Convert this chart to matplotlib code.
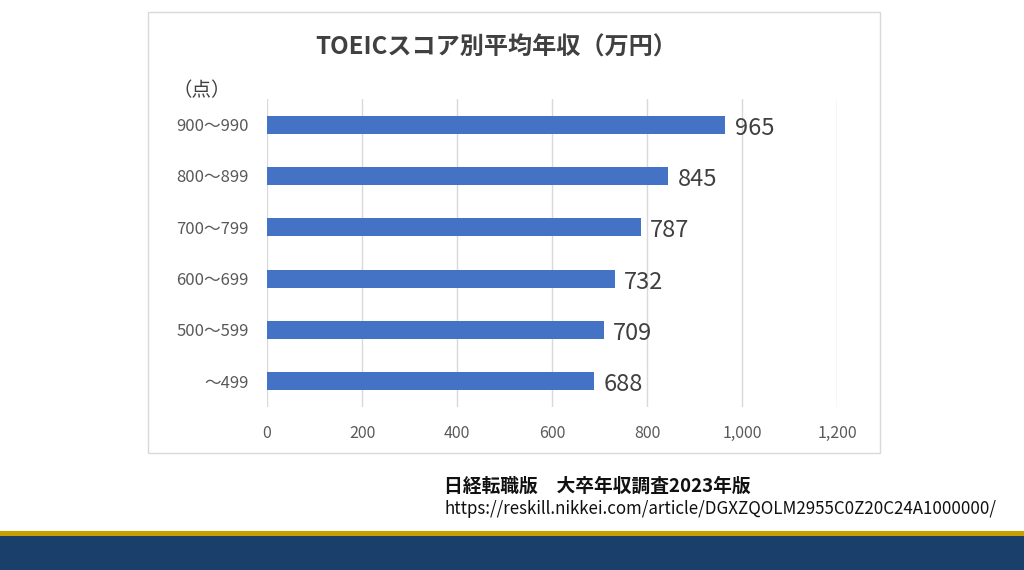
import matplotlib
matplotlib.use("Agg")
import matplotlib.pyplot as plt
from matplotlib.patches import Rectangle
from matplotlib.ticker import FuncFormatter

plt.rcParams['font.family'] = ['Noto Sans CJK JP', 'DejaVu Sans']

categories = ["〜499", "500〜599", "600〜699", "700〜799", "800〜899", "900〜990"]
values = [688, 709, 732, 787, 845, 965]
xticks = [0, 200, 400, 600, 800, 1000, 1200]

fig = plt.figure(figsize=(10.24, 5.70), dpi=100)
fig.patch.set_facecolor("white")

# chart frame
fig.patches.append(Rectangle((148/1024, 1-453/570), 732/1024, 441/570,
                             transform=fig.transFigure, facecolor="white",
                             edgecolor="#d9d9d9", linewidth=1.0, zorder=-5))

# bottom decoration bands
fig.patches.append(Rectangle((0, 0), 1, 34/570, transform=fig.transFigure,
                             facecolor="#1b3f6b", edgecolor="none", zorder=-5))
fig.patches.append(Rectangle((0, 34/570), 1, 5/570, transform=fig.transFigure,
                             facecolor="#c9a000", edgecolor="none", zorder=-5))

ax = fig.add_axes([267/1024, 1-407/570, 570/1024, 308/570])
ax.set_zorder(5)
ax.set_facecolor("none")
y = range(len(categories))
bars = ax.barh(y, values, height=0.35, color="#4472C4", zorder=3)
for yi, v in zip(y, values):
    ax.text(v + 20, yi - 0.07, f"{v}", va="center", ha="left", fontsize=17,
            color="#404040", zorder=4)

ax.set_xlim(0, 1200)
ax.set_ylim(-0.5, len(categories) - 0.5)
ax.set_xticks(xticks)
ax.xaxis.set_major_formatter(FuncFormatter(lambda v, p: f"{int(v):,}"))
ax.set_yticks(list(y))
ax.set_yticklabels(categories)
ax.grid(axis="x", color="#d9d9d9", linewidth=1.0, zorder=0)
ax.set_axisbelow(True)
for s in ax.spines.values():
    s.set_visible(False)
ax.tick_params(axis="x", length=0, pad=13, labelsize=11.5, labelcolor="#595959")
ax.tick_params(axis="y", length=0, pad=13, labelsize=12, labelcolor="#595959")

fig.text(496/1024, 1-48/570, "TOEICスコア別平均年収（万円）", ha="center", va="center",
         fontsize=17.4, fontweight="bold", color="#404040")
fig.text(202/1024, 1-91/570, "（点）", ha="center", va="center",
         fontsize=14, color="#404040")

fig.text(444/1024, 1-486/570, "日経転職版　大卒年収調査2023年版", ha="left", va="center",
         fontsize=13.5, fontweight="bold", color="#111111")
fig.text(444/1024, 1-509/570,
         "https://reskill.nikkei.com/article/DGXZQOLM2955C0Z20C24A1000000/",
         ha="left", va="center", fontsize=12.2, color="#111111")

fig.savefig("out.png", dpi=100, facecolor="white")
